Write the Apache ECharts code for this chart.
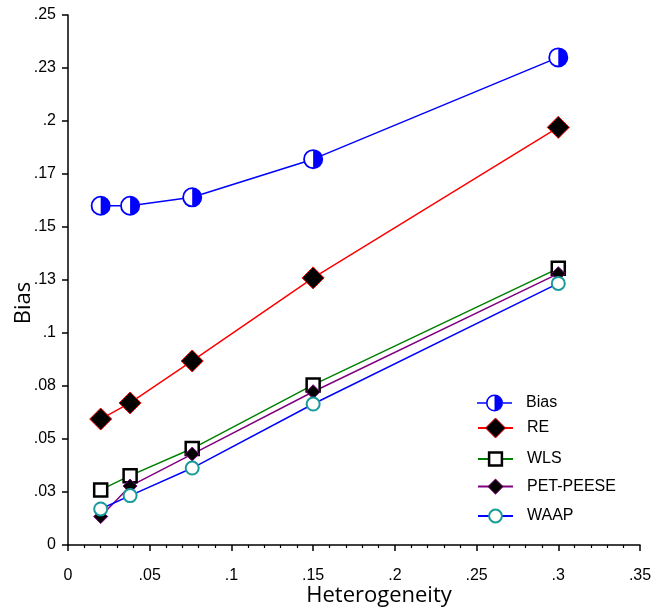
<!DOCTYPE html>
<html><head><meta charset="utf-8">
<script src="https://cdn.jsdelivr.net/npm/echarts@6/dist/echarts.min.js"></script>
<style>html,body{margin:0;padding:0;background:#fff}#c{width:656px;height:613px}</style>
</head><body><div id="c"></div>
<script>
// ---- data ----
const heterogeneity = [0.02, 0.038, 0.076, 0.15, 0.30];
const biasValues = [0.160, 0.160, 0.164, 0.182, 0.230];
const reValues = [0.0594, 0.067, 0.0868, 0.126, 0.197];
const wlsValues = [0.026, 0.0327, 0.0455, 0.0755, 0.1305];
const petPeeseValues = [0.0134, 0.0278, 0.0429, 0.0723, 0.128];
const waapValues = [0.017, 0.0233, 0.0363, 0.0665, 0.1234];
const xTickLabels = ['0', '.05', '.1', '.15', '.2', '.25', '.3', '.35'];
const yTickLabels = ['0', '.03', '.05', '.08', '.1', '.13', '.15', '.17', '.2', '.23', '.25'];
const seriesNames = ['Bias', 'RE', 'WLS', 'PET-PEESE', 'WAAP'];

const pairs = vals => heterogeneity.map((x, i) => [x, vals[i]]);

const halfCirclePath = 'path://M10 0A10 10 0 1 1 10 20A10 10 0 1 1 10 0ZM10 1.8A8.2 8.2 0 0 0 10 18.2L10 1.8Z';
const halfCircleLegend = 'path://M0 7.75L9 7.75L9 9.25L0 9.25ZM26 7.75L35 7.75L35 9.25L26 9.25ZM17.5 0A8.5 8.5 0 1 1 17.5 17A8.5 8.5 0 1 1 17.5 0ZM17.5 1.6A6.9 6.9 0 0 0 17.5 15.4L17.5 1.6Z';

const FONT = 'Liberation Sans, Arial, sans-serif';
const TITLE_FONT = 'Open Sans, sans-serif';
const textStyle = { fontFamily: FONT, fontSize: 16, color: '#000', padding: [0, 0, 0, 9] };

function mkLegend(name, top, itemHeight, extra) {
  return Object.assign({
    left: 477, top: top, padding: 0, orient: 'vertical',
    itemWidth: 35, itemHeight: itemHeight, selectedMode: false,
    textStyle: textStyle
  }, { data: [Object.assign({ name: name }, extra || {})] });
}

const chart = echarts.init(document.getElementById('c'), null, { renderer: 'canvas' });
chart.setOption({
  animation: false,
  backgroundColor: '#fff',
  grid: { left: 68, right: 16, top: 15, bottom: 68, containLabel: false },
  legend: [
    mkLegend('Bias', 394.5, 17, { icon: halfCircleLegend, itemStyle: { color: '#0000ff', borderWidth: 0 } }),
    mkLegend('RE', 417.5, 25, { itemStyle: { borderWidth: 1 } }),
    mkLegend('WLS', 451, 16, { itemStyle: { borderWidth: 2.5 } }),
    mkLegend('PET-PEESE', 478.5, 19, { itemStyle: { borderWidth: 1 } }),
    mkLegend('WAAP', 508, 16, { itemStyle: { borderWidth: 2 } })
  ],
  xAxis: {
    type: 'value', min: 0, max: 0.35, interval: 0.05,
    name: 'Heterogeneity', nameLocation: 'middle', nameGap: 40, nameMoveOverlap: false,
    nameTextStyle: { fontFamily: TITLE_FONT, fontSize: 22, color: '#000', padding: [0, 0, 0, 50] },
    axisLine: { show: true, onZero: false, lineStyle: { color: '#000', width: 1.5 } },
    axisTick: { show: true, inside: false, length: 6, lineStyle: { color: '#000', width: 1.5 } },
    minorTick: { show: true, splitNumber: 5, length: 3, lineStyle: { color: '#000', width: 1.2 } },
    splitLine: { show: false },
    axisLabel: {
      margin: 23, fontFamily: FONT, fontSize: 16, color: '#000',
      formatter: v => xTickLabels[Math.round(v / 0.05)]
    }
  },
  yAxis: {
    type: 'value', min: 0, max: 0.25, interval: 0.025,
    name: 'Bias', nameLocation: 'middle', nameGap: 33, nameMoveOverlap: false,
    nameTextStyle: { fontFamily: TITLE_FONT, fontSize: 22, color: '#000', padding: [0, 46, 0, 0] },
    axisLine: { show: true, onZero: false, lineStyle: { color: '#000', width: 1.5 } },
    axisTick: { show: true, inside: false, length: 6, lineStyle: { color: '#000', width: 1.5 } },
    splitLine: { show: false },
    axisLabel: {
      margin: 12, fontFamily: FONT, fontSize: 16, color: '#000',
      formatter: v => yTickLabels[Math.round(v / 0.025)]
    }
  },
  series: [
    { name: 'Bias-line', type: 'line', data: pairs(biasValues), symbol: 'none', z: 3,
      lineStyle: { color: '#0000ff', width: 1.5 } },
    { name: 'Bias-bg', type: 'line', data: pairs(biasValues), symbol: 'circle', symbolSize: 19, z: 4,
      itemStyle: { color: '#fff', borderWidth: 0 }, lineStyle: { width: 0, opacity: 0 } },
    { name: seriesNames[0], type: 'line', data: pairs(biasValues), symbol: halfCirclePath, symbolSize: 20, z: 5,
      itemStyle: { color: '#0000ff', borderWidth: 0 }, lineStyle: { width: 0, opacity: 0, color: '#0000ff' } },
    { name: seriesNames[1], type: 'line', data: pairs(reValues), symbol: 'diamond', symbolSize: 22, z: 2,
      itemStyle: { color: '#000', borderColor: '#ff0000', borderWidth: 1 }, lineStyle: { color: '#ff0000', width: 1.5 } },
    { name: seriesNames[2], type: 'line', data: pairs(wlsValues), symbol: 'rect', symbolSize: 13, z: 2,
      itemStyle: { color: '#fff', borderColor: '#000', borderWidth: 2.5 }, lineStyle: { color: '#008000', width: 1.5 } },
    { name: seriesNames[3], type: 'line', data: pairs(petPeeseValues), symbol: 'diamond', symbolSize: 14, z: 2,
      itemStyle: { color: '#000', borderColor: '#800080', borderWidth: 1 }, lineStyle: { color: '#800080', width: 1.5 } },
    { name: seriesNames[4], type: 'line', data: pairs(waapValues), symbol: 'circle', symbolSize: 13, z: 2,
      itemStyle: { color: '#fff', borderColor: '#1a9a9a', borderWidth: 2 }, lineStyle: { color: '#0000ff', width: 1.5 } }
  ]
});
</script></body></html>
